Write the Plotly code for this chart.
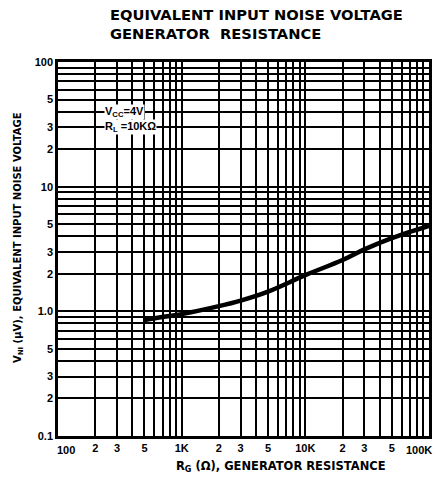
import plotly.graph_objects as go

# Data
rg_ohm = [500, 700, 1000, 2000, 3000, 5000, 10000, 20000, 30000, 50000, 100000]
vni_uv = [0.85, 0.90, 0.95, 1.10, 1.22, 1.44, 1.95, 2.58, 3.14, 3.87, 4.85]

# Axis tick positions / labels
x_tickvals = [m * 10 ** e for e in (2, 3, 4) for m in range(1, 10)] + [100000]
x_labels_map = {200: "2", 300: "3", 500: "5", 1000: "1K", 2000: "2", 3000: "3",
                5000: "5", 10000: "10K", 20000: "2", 30000: "3", 50000: "5"}
x_ticktext = [x_labels_map.get(v, "") for v in x_tickvals]
x_start_label = "100"
x_end_label = "100K"

y_tickvals = [round(m * 10 ** e, 6) for e in (-1, 0, 1) for m in range(1, 10)] + [100]
y_labels_map = {0.1: "0.1", 0.2: "2", 0.3: "3", 0.5: "5", 1: "1.0", 2: "2", 3: "3", 5: "5",
                10: "10", 20: "2", 30: "3", 50: "5", 100: "100"}
y_ticktext = [y_labels_map.get(v, "") for v in y_tickvals]

TICK_FONT = "Liberation Sans"
HEAVY = "DejaVu Sans"

fig = go.Figure()
fig.add_trace(go.Scatter(x=rg_ohm, y=vni_uv, mode="lines",
                         line=dict(color="black", width=4.5, shape="spline", smoothing=1.0),
                         hoverinfo="skip", showlegend=False))

axis_common = dict(type="log", showgrid=True, gridcolor="black", gridwidth=1.8,
                   showline=True, linecolor="black", linewidth=2.5, mirror=True,
                   ticks="", zeroline=False,
                   tickfont=dict(family=TICK_FONT, size=11, color="black", weight="bold"))

fig.update_xaxes(range=[2, 5], tickmode="array", tickvals=x_tickvals, ticktext=x_ticktext,
                 tickangle=0, **axis_common)
fig.update_yaxes(range=[-1, 2], tickmode="array", tickvals=y_tickvals, ticktext=y_ticktext,
                 **axis_common)

tick_font = dict(family=TICK_FONT, size=11, color="black", weight="bold")
fig.add_annotation(xref="paper", yref="paper", x=0.0, y=-0.037, xanchor="left", yanchor="middle",
                   xshift=-3, showarrow=False, text=x_start_label, font=tick_font)
fig.add_annotation(xref="paper", yref="paper", x=1.0, y=-0.037, xanchor="right", yanchor="middle",
                   xshift=5, showarrow=False, text=x_end_label, font=tick_font)

fig.add_annotation(xref="paper", yref="paper", x=0.134, y=1.1016, xanchor="left", yanchor="middle",
                   align="left", showarrow=False,
                   text="EQUIVALENT INPUT NOISE VOLTAGE<br>GENERATOR  RESISTANCE",
                   font=dict(family=HEAVY, size=14.7, color="black", weight="bold"))

fig.add_annotation(xref="paper", yref="paper", x=0.60, y=-0.082, xanchor="center", yanchor="middle",
                   showarrow=False, text="R<sub>G</sub> (Ω), GENERATOR RESISTANCE",
                   font=dict(family=HEAVY, size=11.5, color="black", weight="bold"))

fig.add_annotation(xref="paper", yref="paper", x=-0.107, y=0.53, xanchor="center", yanchor="middle",
                   textangle=-90, showarrow=False,
                   text="V<sub>NI</sub> (μV), EQUIVALENT INPUT NOISE VOLTAGE",
                   font=dict(family=HEAVY, size=10, color="black", weight="bold"))

fig.add_annotation(x=2.37, y=1.60, xref="x", yref="y", xanchor="left", yanchor="middle",
                   showarrow=False, text="V<sub>CC</sub>=4V", bgcolor="white", borderpad=0,
                   font=dict(family=TICK_FONT, size=11, color="black", weight="bold"))
fig.add_annotation(x=2.37, y=1.477, xref="x", yref="y", xanchor="left", yanchor="middle",
                   showarrow=False, text="R<sub>L</sub> =10KΩ", bgcolor="white", borderpad=0,
                   font=dict(family=TICK_FONT, size=11, color="black", weight="bold"))

# Plot area at x 58..432, y 62..436 in the 437x491 window (body margin removed below).
fig.update_layout(width=437, height=491, margin=dict(l=58, r=5, t=62, b=55),
                  paper_bgcolor="white", plot_bgcolor="white")

fig.write_html("out.html", config={"displayModeBar": False},
               post_script="document.body.style.margin='0';")
